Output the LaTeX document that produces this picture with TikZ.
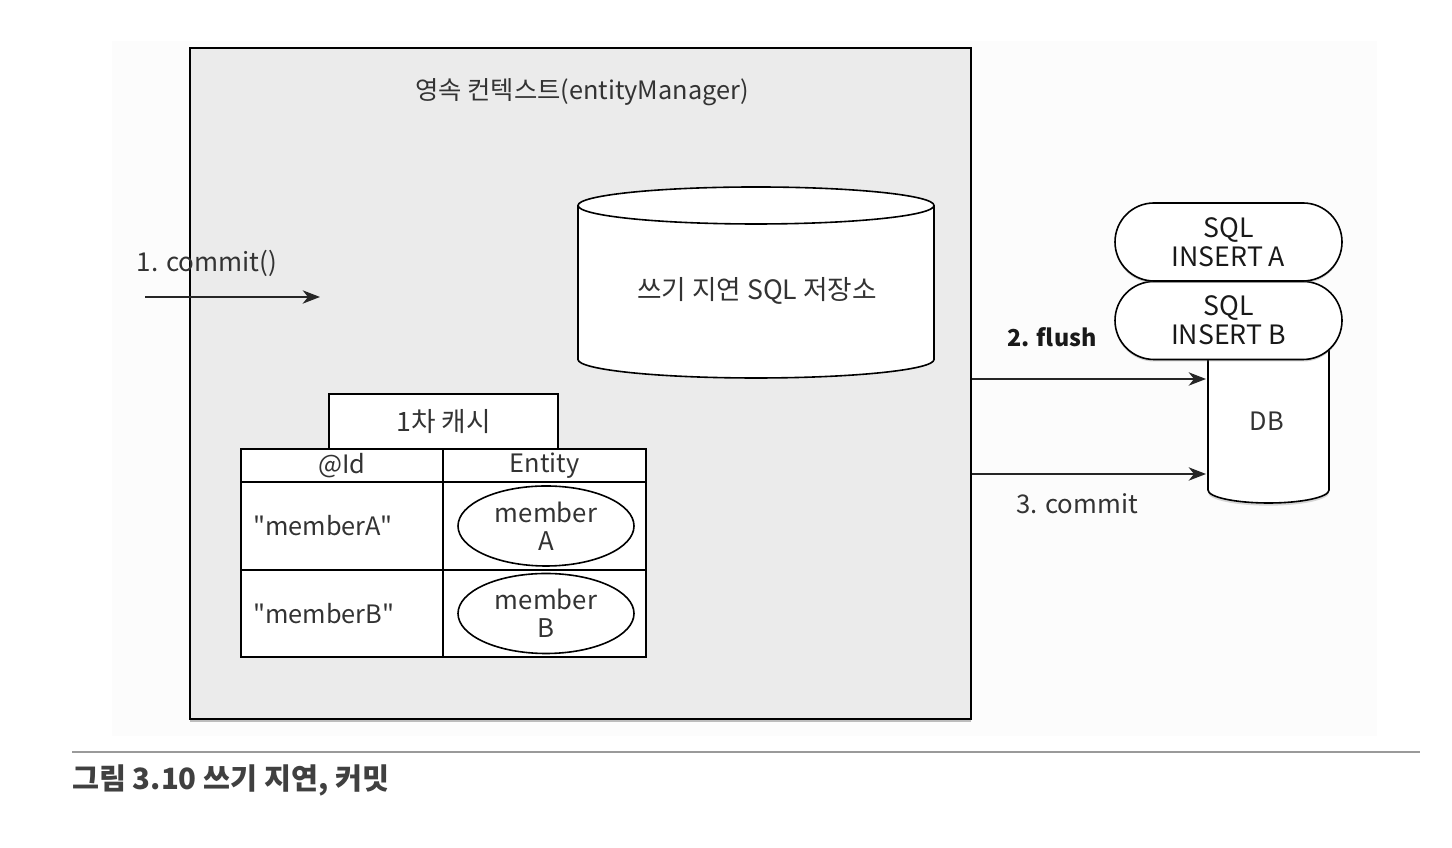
\documentclass[tikz,border=0pt]{standalone}
\usepackage{fontspec}
\setmainfont{Noto Sans CJK KR}
\newfontfamily\qfont{Noto Sans CJK KR}
\usetikzlibrary{arrows.meta,shapes.misc,shapes.geometric,shadows}
\definecolor{boxgray}{HTML}{EBEBEB}
\definecolor{faint}{HTML}{FCFCFC}
\definecolor{txt}{HTML}{333333}
\definecolor{rule}{HTML}{9A9A9A}
\newcommand{\dq}{{\qfont\symbol{"22}}}
\tikzset{
  lbl/.style={font=\fontsize{19}{22}\selectfont, text=txt, inner sep=0pt, align=center},
  cell/.style={draw=black, line width=1.3pt, fill=white, inner sep=0pt},
  pill/.style={rounded rectangle, draw=black, line width=1.2pt, fill=white, minimum width=227*0.75pt, minimum height=78*0.75pt, inner sep=0pt, align=center, font=\fontsize{20}{21.5}\selectfont, text=black!90, drop shadow={shadow xshift=0pt, shadow yshift=-1.5pt, opacity=.35}},
  ent/.style={ellipse, draw=black, line width=1.2pt, fill=white, minimum width=176*0.75pt, minimum height=80*0.75pt, inner sep=0pt, align=center, font=\fontsize{19.3}{21}\selectfont, text=txt},
  flow/.style={-{Stealth[length=13pt,width=10pt,inset=4pt]}, line width=1.4pt, draw=black!85},
}
\begin{document}
\begin{tikzpicture}[x=0.75pt,y=0.75pt]
\useasboundingbox (0,0) rectangle (1452,848);
\fill[white] (0,0) rectangle (1452,848);
\fill[faint] (112,112) rectangle (1377,807);

% persistence context box
\node[draw=black, line width=1.4pt, fill=boxgray, minimum width=781*0.75pt, minimum height=671*0.75pt, inner sep=0pt,
  drop shadow={shadow xshift=0pt, shadow yshift=-2.5pt, opacity=.5}] (ctx) at (580.5,464.5) {};
\node[lbl] (title) at (582,756) {영속 컨텍스트(entityManager)};

% write-behind SQL store (cylinder)
\filldraw[fill=white, draw=black, line width=1.2pt]
  (578,642.5) -- (578,488.5) arc[start angle=180, end angle=360, x radius=178, y radius=18.5] -- (934,642.5);
\filldraw[fill=white, draw=black, line width=1.2pt] (756,642.5) ellipse[x radius=178, y radius=18.5];
\node[lbl, font=\fontsize{20}{22}\selectfont] (store) at (757,557) {쓰기 지연 SQL 저장소};

% 1. commit()
\coordinate (c0) at (145,551);
\coordinate (c1) at (320,551);
\draw[flow] (c0) -- (c1);
\node[lbl, font=\fontsize{19.5}{22}\selectfont] (commit1) at (207,585) {1. commit()};

% first-level cache
\node[cell, minimum width=229*0.75pt, minimum height=55*0.75pt, font=\fontsize{20}{22}\selectfont, text=txt] (cache) at (443.5,426.5) {1차 캐시};
\node[cell, minimum width=202*0.75pt, minimum height=33*0.75pt, font=\fontsize{19}{22}\selectfont, text=txt] (hid) at (342,382.5) {@Id};
\node[cell, minimum width=203*0.75pt, minimum height=33*0.75pt, font=\fontsize{19}{22}\selectfont, text=txt] (hent) at (544.5,382.5) {Entity};
\node[cell, minimum width=202*0.75pt, minimum height=88*0.75pt] (r1id) at (342,322) {};
\node[cell, minimum width=203*0.75pt, minimum height=88*0.75pt] (r1e) at (544.5,322) {};
\node[cell, minimum width=202*0.75pt, minimum height=87*0.75pt] (r2id) at (342,234.5) {};
\node[cell, minimum width=203*0.75pt, minimum height=87*0.75pt] (r2e) at (544.5,234.5) {};
\node[lbl, anchor=west] (ida) at (253,322) {\dq memberA\dq};
\node[lbl, anchor=west] (idb) at (253,234.5) {\dq memberB\dq};
\node[ent] (ma) at (546,322) {member\\A};
\node[ent] (mb) at (546,234.5) {member\\B};

% DB cylinder
\filldraw[fill=white, draw=black, line width=1.2pt,
  drop shadow={shadow xshift=0pt, shadow yshift=-2pt, opacity=.3}]
  (1208,500) -- (1208,358) arc[start angle=180, end angle=360, x radius=60.5, y radius=13] -- (1329,500);
\node[minimum width=121*0.75pt, minimum height=150*0.75pt, inner sep=0pt] (db) at (1268.5,429) {};
\node[lbl] (dbl) at (1267,427) {DB};

% SQL pills
\node[pill] (sqlb) at (1228.5,527.5) {SQL\\INSERT B};
\node[pill] (sqla) at (1228.5,606) {SQL\\INSERT A};

% flush / commit arrows
\coordinate (f0) at (ctx.east |- 0,469);
\coordinate (f1) at (1206,469);
\coordinate (k0) at (ctx.east |- 0,374);
\coordinate (k1) at (1206,374);
\draw[flow] (f0) -- (f1);
\draw[flow] (k0) -- (k1);
\node[lbl, font=\bfseries\fontsize{17.5}{20}\selectfont, text=black!90] (flush) at (1052,511) {2. flush};
\node[lbl, font=\fontsize{19.3}{22}\selectfont] (commit3) at (1077,344) {3. commit};

% caption
\coordinate (r0) at (72,96);
\coordinate (r1) at (1420,96);
\draw[rule, line width=1.5pt] (r0) -- (r1);
\node[anchor=west, inner sep=0pt, font=\bfseries\fontsize{22}{24}\selectfont, text=black!75] (cap) at (72,68) {그림 3.10 쓰기 지연, 커밋};
\end{tikzpicture}
\end{document}
